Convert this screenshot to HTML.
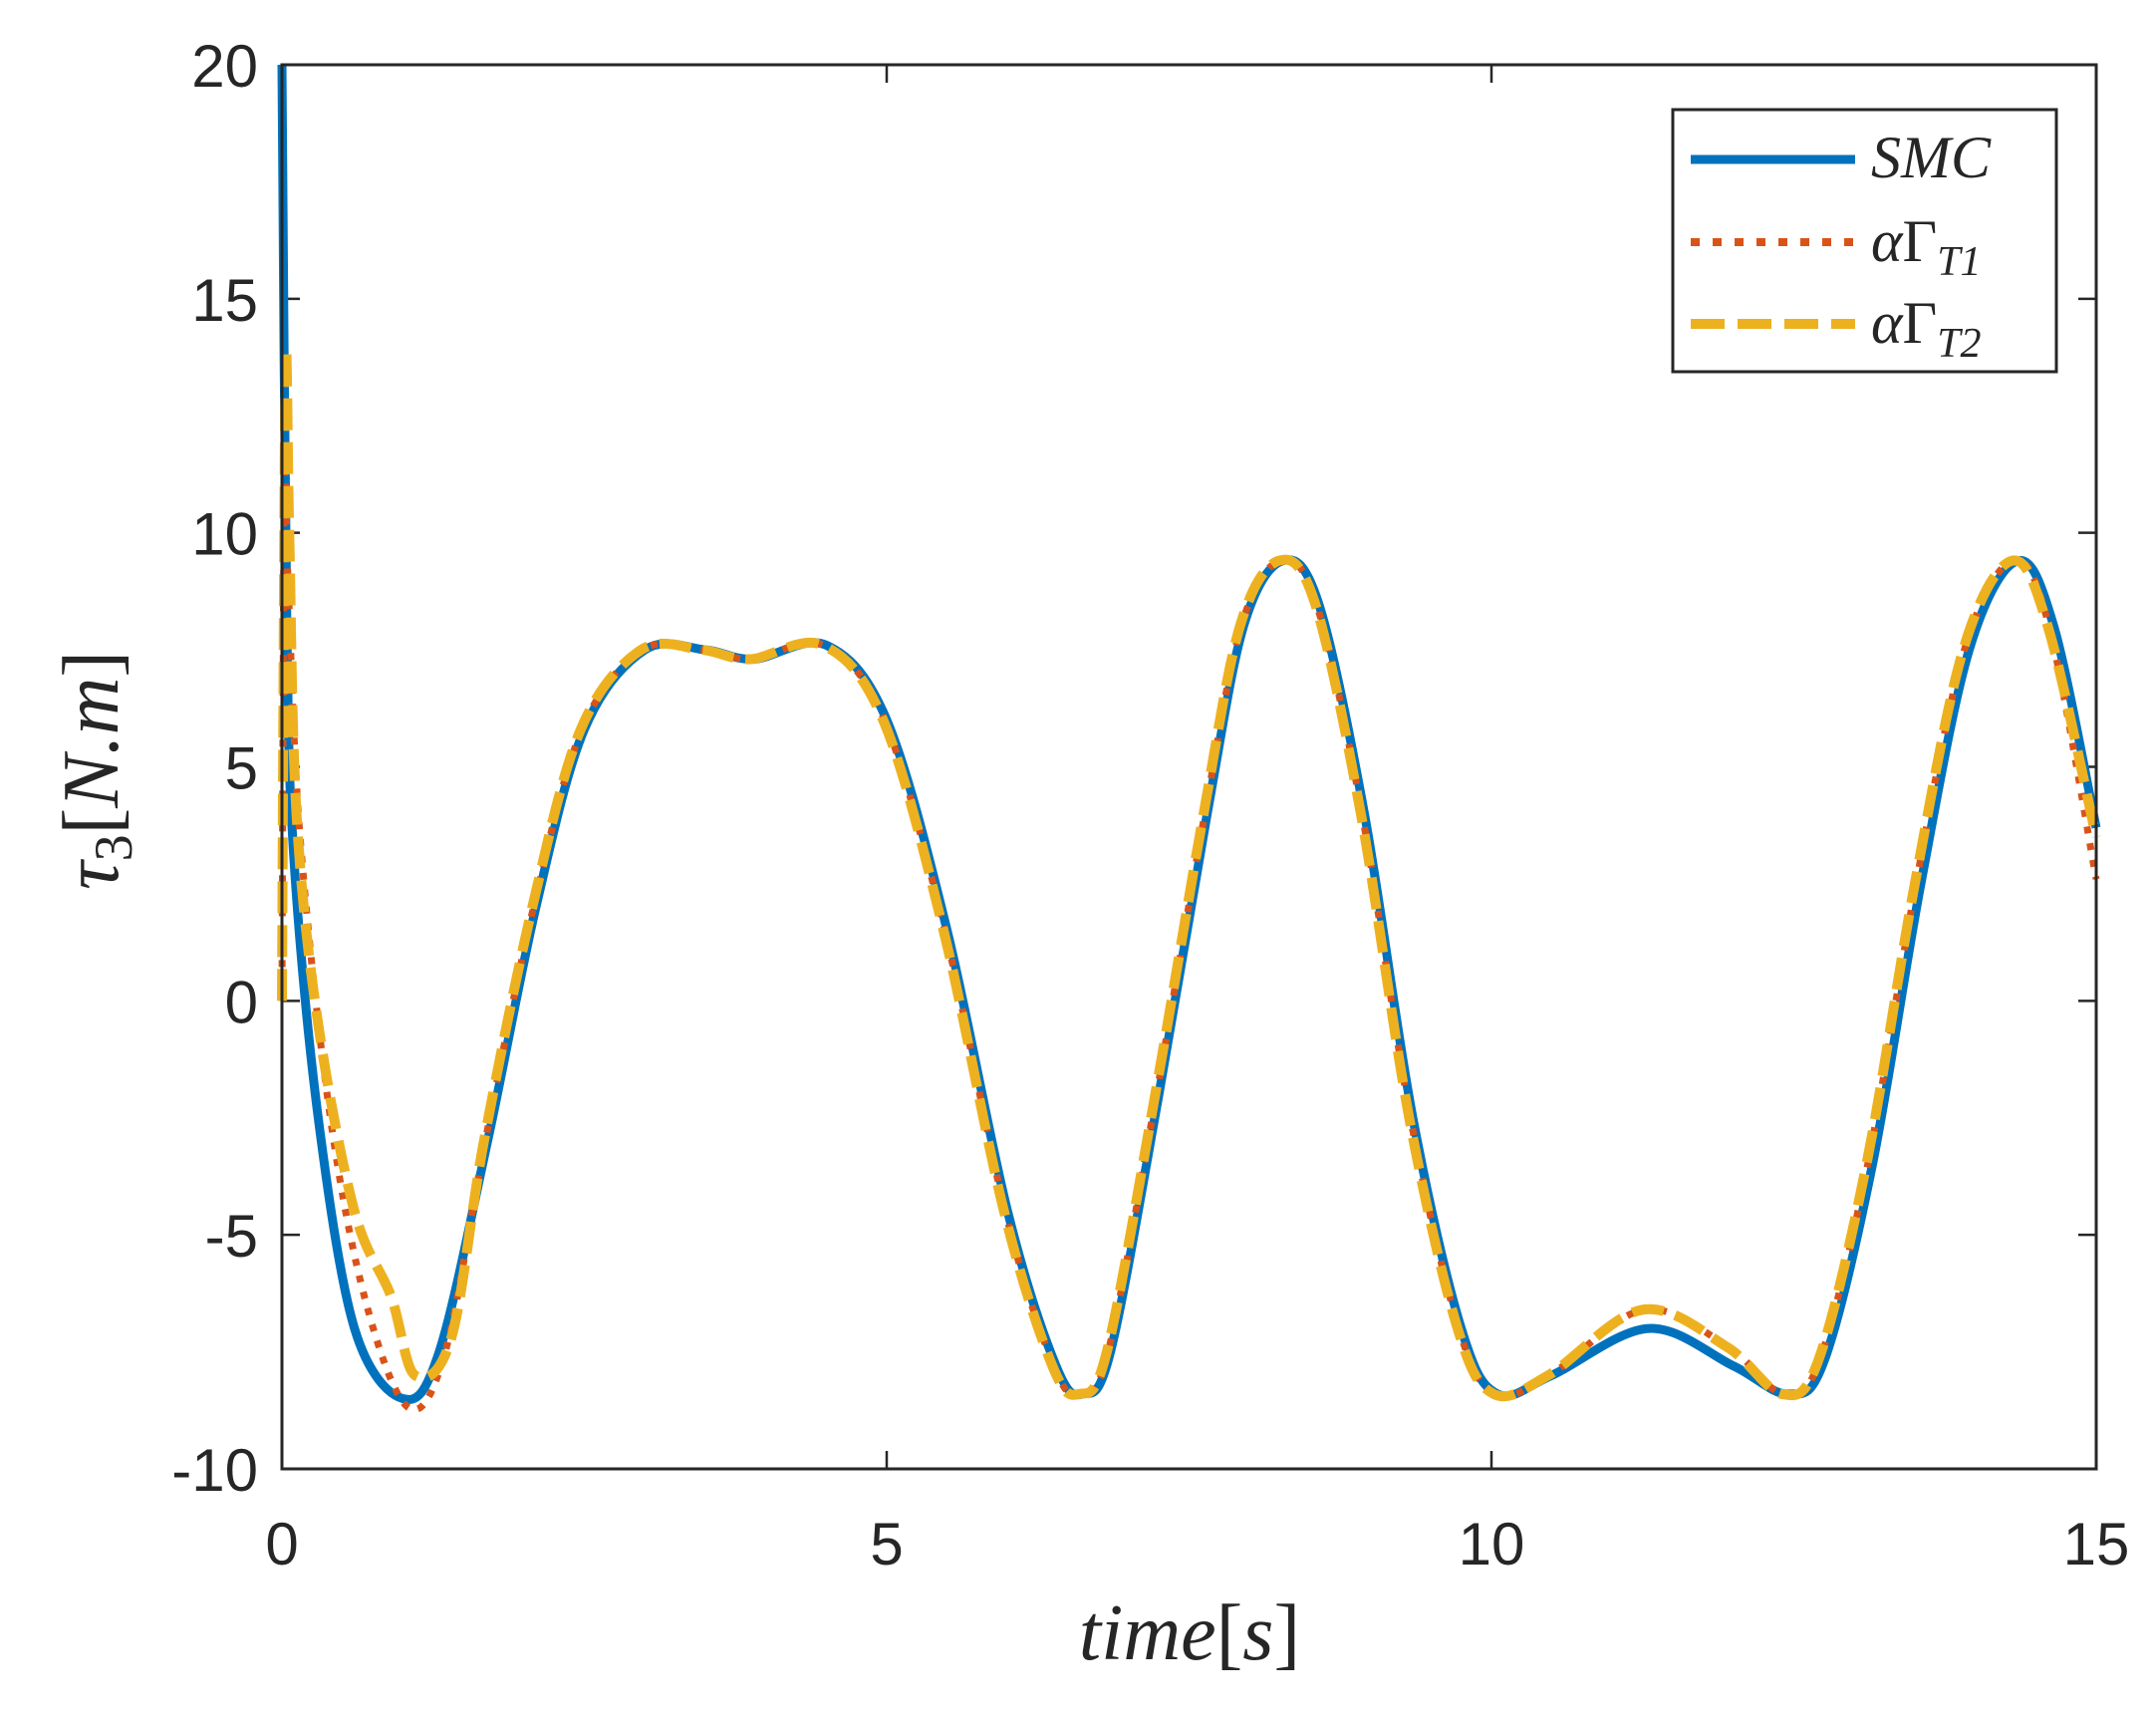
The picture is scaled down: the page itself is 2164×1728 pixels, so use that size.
<!DOCTYPE html>
<html><head><meta charset="utf-8"><style>
html,body{margin:0;padding:0;background:#fff;}
svg{display:block;}
text{font-family:"Liberation Sans",Arial,sans-serif;fill:#262626;}
.m{font-family:"Liberation Serif",serif;font-style:italic;}
.u{font-style:normal;}
</style></head><body>
<svg id="s" width="2164" height="1728" viewBox="0 0 2164 1728" xmlns="http://www.w3.org/2000/svg">
<rect width="2164" height="1728" fill="#fff"/>
<g id="ticks" stroke="#262626" stroke-width="2.5" fill="none"></g>
<g id="curves" fill="none" stroke-linejoin="round"></g>
<rect x="283" y="65" width="1821" height="1409" fill="none" stroke="#262626" stroke-width="3"/>
<g id="labels" font-size="60"></g>
<text x="1194" y="1665" font-size="80" text-anchor="middle" class="m">time<tspan class="u">[</tspan>s<tspan class="u">]</tspan></text>
<text transform="translate(118,773) rotate(-90)" font-size="80" text-anchor="middle" class="m">τ<tspan font-size="54" font-style="normal" dy="14">3</tspan><tspan dy="-14" class="u">[</tspan>N.m<tspan class="u">]</tspan></text>
<rect x="1679" y="110" width="385" height="263" fill="#fff" stroke="#262626" stroke-width="3"/>
<line x1="1697" y1="160" x2="1862" y2="160" stroke="#0072BD" stroke-width="9"/>
<line x1="1697" y1="243" x2="1862" y2="243" stroke="#D95319" stroke-width="8" stroke-dasharray="9,13"/>
<line x1="1697" y1="325" x2="1862" y2="325" stroke="#EDB120" stroke-width="10" stroke-dasharray="34,13"/>
<text x="1878" y="178" font-size="60" class="m">SMC</text>
<text x="1878" y="262" font-size="60" class="m">α<tspan class="u">Γ</tspan><tspan font-size="42" dy="14">T1</tspan></text>
<text x="1878" y="344" font-size="60" class="m">α<tspan class="u">Γ</tspan><tspan font-size="42" dy="14">T2</tspan></text>
</svg>
<script>
const L=283,R=2104,T=65,B=1474;
const X=t=>L+(R-L)*t/15, Y=v=>T+(B-T)*(20-v)/30;
const NS="http://www.w3.org/2000/svg";
function el(p,n,a,txt){const e=document.createElementNS(NS,n);for(const k in a)e.setAttribute(k,a[k]);if(txt!==undefined)e.textContent=txt;p.appendChild(e);return e;}
const tk=document.getElementById('ticks'),lb=document.getElementById('labels');
for(let t=0;t<=15;t+=5){const x=X(t);el(tk,'line',{x1:x,y1:B,x2:x,y2:B-18});el(tk,'line',{x1:x,y1:T,x2:x,y2:T+18});el(lb,'text',{x:x,y:1570,'text-anchor':'middle'},String(t));}
for(let v=-10;v<=20;v+=5){const y=Y(v);el(tk,'line',{x1:L,y1:y,x2:L+18,y2:y});el(tk,'line',{x1:R,y1:y,x2:R-18,y2:y});el(lb,'text',{x:259,y:y+22,'text-anchor':'end'},String(v));}
const base=[[0.1,3],[0.3,-2.5],[0.6,-7],[1.0,-8.5],[1.3,-7.5],[1.7,-3],[2.1,2],[2.5,5.8],[3.0,7.5],[3.5,7.5],[3.9,7.3],[4.5,7.6],[5.0,6],[5.5,1.5],[6.0,-4.5],[6.4,-7.8],[6.62,-8.4],[6.85,-7.5],[7.25,-2],[7.65,4],[7.95,8],[8.27,9.4],[8.57,8.5],[8.95,4],[9.35,-2.5],[9.75,-7],[10.05,-8.4],[10.5,-8],[11.3,-7],[12.0,-7.8],[12.45,-8.4],[12.75,-7.7],[13.15,-3.5],[13.55,2.5],[13.95,7.5],[14.35,9.4],[14.65,8],[15,3.7]];
function path(pts){
 let d='M'+X(pts[0][0]).toFixed(1)+','+Y(pts[0][1]).toFixed(1);
 for(let i=0;i<pts.length-1;i++){
  const p0=pts[Math.max(0,i-1)],p1=pts[i],p2=pts[i+1],p3=pts[Math.min(pts.length-1,i+2)];
  const P=p=>[X(p[0]),Y(p[1])];
  const a=P(p0),b=P(p1),c=P(p2),e=P(p3);
  const c1=[b[0]+(c[0]-a[0])/6,b[1]+(c[1]-a[1])/6],c2=[c[0]-(e[0]-b[0])/6,c[1]-(e[1]-b[1])/6];
  d+='C'+c1.map(v=>v.toFixed(1))+' '+c2.map(v=>v.toFixed(1))+' '+c.map(v=>v.toFixed(1));
 }
 return d;
}
const cg=document.getElementById('curves');
const smc=[[0,20],[0.04,8]].concat(base);
const s1=base.filter(p=>p[0]>0.3).map(p=>[Math.min(15,p[0]<10.6?p[0]-0.02:p[0]-0.04),p[1]]);
const g1=[[0,0],[0.02,11],[0.05,9],[0.15,3.5],[0.4,-2.5],[0.7,-6.5],[1.05,-8.7],[1.35,-7.5]].concat(s1.filter(p=>p[0]>1.6));
g1.forEach(p=>{if(p[0]>10.8&&p[0]<12)p[1]+=0.4});g1[g1.length-1]=[15,2.6];
const s2=base.filter(p=>p[0]>1.6).map(p=>[p[0]<10.6?p[0]-0.03:p[0]-0.05,p[1]]);
const g2=[[0,0],[0.03,13.5],[0.06,10],[0.12,4],[0.3,-0.5],[0.6,-4.5],[0.9,-6.3],[1.1,-8],[1.4,-7.2]].concat(s2);
g2.forEach(p=>{if(p[0]>10.8&&p[0]<12)p[1]+=0.4});g2[g2.length-1]=[15,3.5];
el(cg,'path',{d:path(smc),stroke:'#0072BD','stroke-width':9});
el(cg,'path',{d:path(g1),stroke:'#D95319','stroke-width':7,'stroke-dasharray':'7,10'});
el(cg,'path',{d:path(g2),stroke:'#EDB120','stroke-width':10,'stroke-dasharray':'32,12'});
</script>
</body></html>
